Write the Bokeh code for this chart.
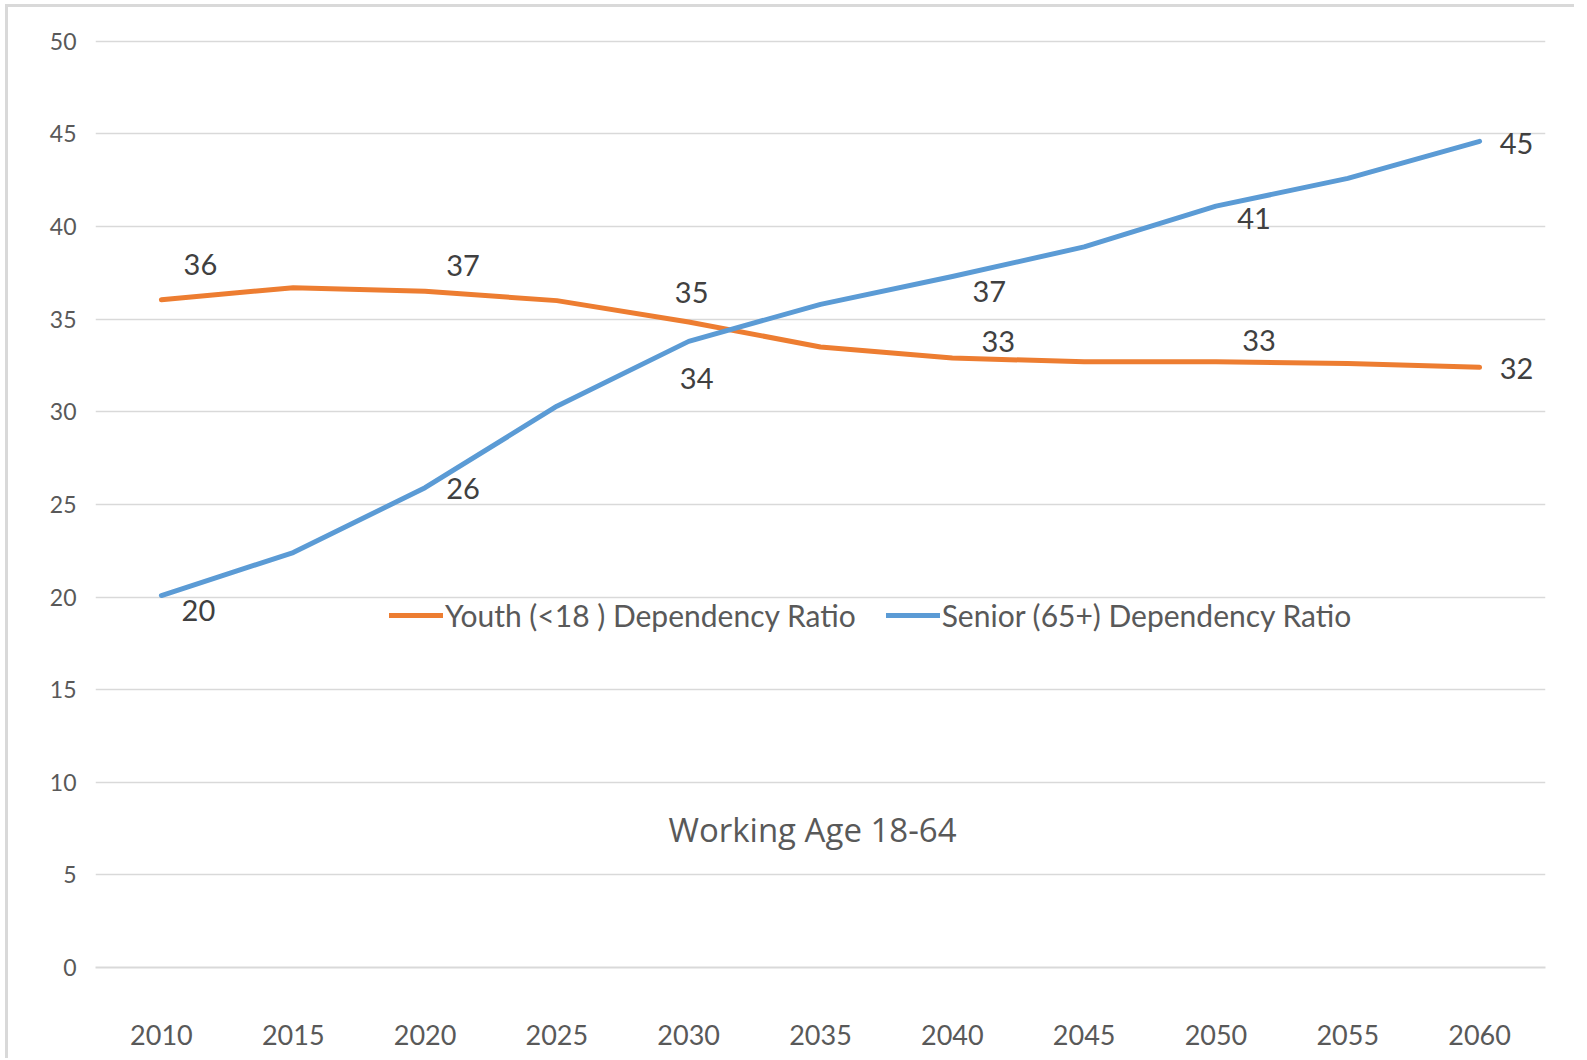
from bokeh.plotting import figure
from bokeh.models import FactorRange, Range1d, FixedTicker, Legend, LegendItem, Label, ColumnDataSource
from bokeh.core.properties import value
from bokeh.embed import file_html
from bokeh.resources import INLINE

years = ["2010", "2015", "2020", "2025", "2030", "2035", "2040", "2045", "2050", "2055", "2060"]
youth = [36.05, 36.7, 36.5, 36.0, 34.85, 33.5, 32.9, 32.7, 32.7, 32.6, 32.4]
senior = [20.08, 22.4, 25.9, 30.3, 33.8, 35.8, 37.3, 38.9, 41.1, 42.6, 44.6]
y_ticks = [0, 5, 10, 15, 20, 25, 30, 35, 40, 45, 50]

label_years = ["2010", "2020", "2030", "2040", "2050", "2060"]
youth_labels = ["36", "37", "35", "33", "33", "32"]
senior_labels = ["20", "26", "34", "37", "41", "45"]
# label offsets in screen pixels (dx, dy downward)
youth_dx = [39, 38, 3, 46, 43, 37]
youth_dy = [-35, -26, -29, -17, -21, 1]
senior_dx = [37, 38, 8, 37, 38, 37]
senior_dy = [15, 1, 37, 15, 12, 2]

FONT = "Lato"
ORANGE = "#ED7D31"
BLUE = "#5B9BD5"

p = figure(width=1569, height=1054, x_range=FactorRange(*years, range_padding=0),
           y_range=Range1d(0, 50.15), output_backend="svg", toolbar_location=None,
           min_border_left=87, min_border_right=32, min_border_top=31, min_border_bottom=94)
p.styles = {"border-left": "3px solid #d9d9d9", "border-top": "3px solid #d9d9d9",
            "margin-left": "5px", "margin-top": "4px"}
p.outline_line_color = None
p.background_fill_color = "white"
p.border_fill_color = "white"

p.yaxis.ticker = FixedTicker(ticks=y_ticks)
p.ygrid.ticker = FixedTicker(ticks=y_ticks)
p.ygrid.grid_line_color = "#d9d9d9"
p.ygrid.grid_line_width = 1.5
p.xgrid.grid_line_color = None

p.yaxis.axis_line_color = None
p.yaxis.major_tick_line_color = None
p.yaxis.minor_tick_line_color = None
p.yaxis.major_label_text_font = FONT
p.yaxis.major_label_text_font_size = "23px"
p.yaxis.major_label_text_color = "#595959"
p.yaxis.major_label_standoff = 13

p.xaxis.axis_line_color = "#d9d9d9"
p.xaxis.axis_line_width = 2
p.xaxis.major_tick_line_color = None
p.xaxis.minor_tick_line_color = None
p.xaxis.major_label_text_font = FONT
p.xaxis.major_label_text_font_size = "27px"
p.xaxis.major_label_text_color = "#595959"
p.xaxis.major_label_standoff = 51

src = ColumnDataSource(dict(x=years, youth=youth, senior=senior))
r1 = p.line("x", "youth", source=src, line_color=ORANGE, line_width=5, line_cap="round", line_join="round")
r2 = p.line("x", "senior", source=src, line_color=BLUE, line_width=5, line_cap="round", line_join="round")

yl_vals = [youth[years.index(y)] for y in label_years]
sl_vals = [senior[years.index(y)] for y in label_years]
ysrc = ColumnDataSource(dict(x=label_years, y=yl_vals, t=youth_labels, dx=youth_dx, dy=youth_dy))
ssrc = ColumnDataSource(dict(x=label_years, y=sl_vals, t=senior_labels, dx=senior_dx, dy=senior_dy))
for s in (ysrc, ssrc):
    p.text("x", "y", text="t", source=s, x_offset="dx", y_offset="dy",
           text_align="center", text_baseline="middle",
           text_font=value(FONT), text_font_size="29px", text_color="#404040")

legend = Legend(items=[LegendItem(label="Youth (<18 ) Dependency Ratio", renderers=[r1]),
                       LegendItem(label="Senior (65+) Dependency Ratio", renderers=[r2])],
                orientation="horizontal", location=(294, 334),
                label_text_font=FONT, label_text_font_size="30px", label_text_color="#595959",
                glyph_width=54, glyph_height=20, label_standoff=2, spacing=30,
                background_fill_alpha=0, border_line_alpha=0, padding=0, margin=0)
p.add_layout(legend, "center")

p.add_layout(Label(x=717, y=138, x_units="screen", y_units="screen", text="Working Age 18-64",
                   text_font="Open Sans", text_font_size="33px", text_color="#595959",
                   text_align="center", text_baseline="middle"))

open("out.html", "w").write(file_html(p, INLINE))
